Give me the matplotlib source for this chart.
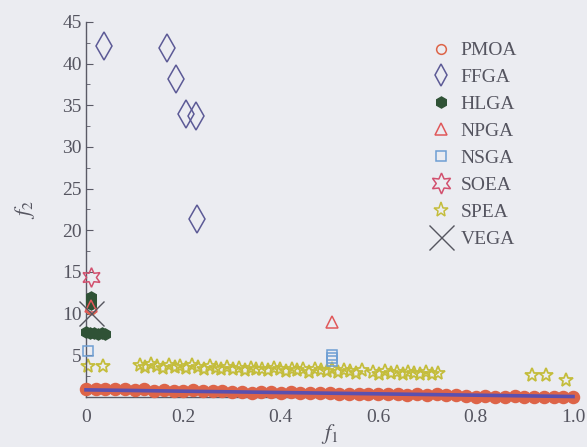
import numpy as np
import matplotlib
matplotlib.use("Agg")
import matplotlib.pyplot as plt
from matplotlib.lines import Line2D

# ---- data ----
pmoa_f1 = [0.00, 0.02, 0.04, 0.06, 0.08, 0.10, 0.12,
           0.14, 0.16, 0.18, 0.20, 0.22, 0.24, 0.26, 0.28,
           0.30, 0.32, 0.34, 0.36, 0.38, 0.40, 0.42, 0.44, 0.46, 0.48, 0.50,
           0.52, 0.54, 0.56, 0.58, 0.60, 0.62, 0.64, 0.66, 0.68, 0.70, 0.72, 0.74, 0.76,
           0.78, 0.80, 0.82, 0.84, 0.86, 0.88, 0.90, 0.92, 0.94, 0.96, 0.98, 1.00]
pmoa_f2 = [0.95, 0.9, 1.0, 0.9, 0.95, 0.85, 0.9,
           0.75, 0.8, 0.7, 0.75, 0.8, 0.7, 0.75, 0.7,
           0.55, 0.6, 0.5, 0.55, 0.6, 0.5, 0.55, 0.5, 0.45, 0.5, 0.45,
           0.35, 0.3, 0.4, 0.35, 0.3, 0.35, 0.3, 0.25, 0.3, 0.25, 0.3, 0.25, 0.2,
           0.1, 0.05, 0.1, 0.0, 0.05, 0.1, 0.0, 0.05, 0.0, 0.05, 0.0, 0.05]
pmoa_out_f1 = [0.01]
pmoa_out_f2 = [10.5]

ffga_f1 = [0.037, 0.167, 0.185, 0.206, 0.226, 0.228]
ffga_f2 = [42.1, 41.9, 38.2, 34.0, 33.7, 21.4]

hlga_f1 = [0.01, 0.01, 0.01, 0.0, 0.008, 0.016, 0.024, 0.032, 0.04]
hlga_f2 = [12.0, 11.6, 11.2, 7.8, 7.7, 7.7, 7.6, 7.7, 7.6]

npga_f1 = [0.01, 0.505]
npga_f2 = [10.9, 9.0]

nsga_f1 = [0.005, 0.505, 0.505, 0.505]
nsga_f2 = [5.5, 4.3, 4.65, 5.0]

soea_f1 = [0.01]
soea_f2 = [14.4]

spea_f1 = [0.005, 0.035,
           0.11, 0.122, 0.134, 0.146, 0.158, 0.17, 0.182, 0.194, 0.206, 0.218, 0.23, 0.242,
           0.254, 0.266, 0.278, 0.29, 0.302, 0.314, 0.326, 0.338, 0.35, 0.362, 0.374, 0.386,
           0.398, 0.41, 0.422, 0.434, 0.446, 0.458, 0.47, 0.482, 0.494, 0.506, 0.518, 0.53,
           0.542, 0.554, 0.566,
           0.59, 0.602, 0.614, 0.626, 0.638, 0.65, 0.662, 0.674, 0.686, 0.698, 0.71, 0.722,
           0.915, 0.945, 0.985]
spea_f2 = [3.7, 3.7,
           3.8, 3.6, 3.9, 3.7, 3.5, 3.8, 3.6, 3.7, 3.5, 3.8, 3.6, 3.4,
           3.7, 3.5, 3.3, 3.6, 3.4, 3.5, 3.2, 3.5, 3.3, 3.4, 3.2, 3.5,
           3.3, 3.1, 3.4, 3.2, 3.3, 3.0, 3.4, 3.2, 3.1, 3.3, 3.0, 3.2,
           3.1, 2.9, 3.2,
           3.0, 2.8, 3.1, 2.9, 3.0, 2.8, 3.0, 2.9, 2.7, 3.0, 2.8, 2.9,
           2.6, 2.6, 2.0]

vega_f1 = [0.01]
vega_f2 = [10.1]

front_f1 = [0.0, 0.25, 0.5, 0.75, 1.0]
front_f2 = [0.85, 0.65, 0.45, 0.25, 0.05]

# ---- style ----
bg = '#ebecf1'
plt.rcParams['font.family'] = ['Liberation Serif', 'DejaVu Serif']
plt.rcParams['mathtext.fontset'] = 'stix'

c_pmoa = '#dd6448'
c_ffga = '#5c5a96'
c_hlga = '#2f5236'
c_npga = '#e0585a'
c_nsga = '#6e9fd4'
c_soea = '#d2506e'
c_spea = '#c4bd3c'
c_vega = '#55555f'
c_front = '#5a50b0'

fig = plt.figure(figsize=(5.87, 4.47), dpi=100, facecolor=bg)
ax = fig.add_axes([86 / 587, 0.112, (573 - 86) / 587, 0.839])
ax.set_facecolor(bg)

ax.plot(pmoa_f1, pmoa_f2, ls='none', marker='o', ms=8.5, mfc=c_pmoa, mec=c_pmoa, mew=1.2, clip_on=False, zorder=3)
ax.plot(pmoa_out_f1, pmoa_out_f2, ls='none', marker='o', ms=7, mfc='none', mec=c_pmoa, mew=1.5, clip_on=False, zorder=3)
ax.plot(front_f1, front_f2, color=c_front, lw=2.6, clip_on=False, zorder=4)
ax.plot(ffga_f1, ffga_f2, ls='none', marker='d', ms=14, mfc='none', mec=c_ffga, mew=1.1, clip_on=False, zorder=3)
ax.plot(hlga_f1, hlga_f2, ls='none', marker='h', ms=8, mfc=c_hlga, mec=c_hlga, clip_on=False, zorder=3)
ax.plot(npga_f1, npga_f2, ls='none', marker='^', ms=9, mfc='none', mec=c_npga, mew=1.1, clip_on=False, zorder=3)
ax.plot(nsga_f1, nsga_f2, ls='none', marker='s', ms=7, mfc='none', mec=c_nsga, mew=1.1, clip_on=False, zorder=3)
ax.plot(soea_f1, soea_f2, ls='none', marker=(6, 1, 0), ms=14, mfc='none', mec=c_soea, mew=1.1, clip_on=False, zorder=3)
ax.plot(spea_f1, spea_f2, ls='none', marker='*', ms=10, mfc='none', mec=c_spea, mew=1.3, clip_on=False, zorder=2)
ax.plot(vega_f1, vega_f2, ls='none', marker='x', ms=18, mec=c_vega, mew=1.0, clip_on=False, zorder=3)

ax.set_xlim(0, 1.0)
ax.set_ylim(0, 45)
ax.set_xticks([0, 0.2, 0.4, 0.6, 0.8, 1.0])
ax.set_xticklabels(['0', '0.2', '0.4', '0.6', '0.8', '1.0'])
ax.set_yticks([5, 10, 15, 20, 25, 30, 35, 40, 45])
ax.set_yticks(np.arange(2.5, 45, 5), minor=True)

for s in ['top', 'right']:
    ax.spines[s].set_visible(False)
for s in ['left', 'bottom']:
    ax.spines[s].set_color('#5a5a66')
    ax.spines[s].set_linewidth(1.0)

ax.tick_params(axis='both', which='both', direction='in', colors='#5a5a66', labelcolor='#555560', labelsize=14)
ax.tick_params(axis='y', which='major', length=5, pad=3)
ax.tick_params(axis='y', which='minor', length=3)
ax.tick_params(axis='x', which='major', length=0, pad=9)

ax.set_xlabel('$f_1$', fontsize=16, color='#555560', labelpad=-3)
ax.set_ylabel('$f_2$', fontsize=16, color='#555560', labelpad=18)

handles = [
    Line2D([], [], ls='none', marker='o', ms=7, mfc='none', mec=c_pmoa, mew=1.1),
    Line2D([], [], ls='none', marker='d', ms=11, mfc='none', mec=c_ffga, mew=1.1),
    Line2D([], [], ls='none', marker='h', ms=8, mfc=c_hlga, mec=c_hlga),
    Line2D([], [], ls='none', marker='^', ms=9, mfc='none', mec=c_npga, mew=1.1),
    Line2D([], [], ls='none', marker='s', ms=7, mfc='none', mec=c_nsga, mew=1.1),
    Line2D([], [], ls='none', marker=(6, 1, 0), ms=15, mfc='none', mec=c_soea, mew=1.1),
    Line2D([], [], ls='none', marker='*', ms=11, mfc='none', mec=c_spea, mew=1.1),
    Line2D([], [], ls='none', marker='x', ms=18, mec=c_vega, mew=1.0),
]
labels = ['PMOA', 'FFGA', 'HLGA', 'NPGA', 'NSGA', 'SOEA', 'SPEA', 'VEGA']
leg = ax.legend(handles, labels, loc='upper left', bbox_to_anchor=(420 / 587, 1 - 32 / 447),
                bbox_transform=fig.transFigure, frameon=False, fontsize=14,
                handlelength=1.2, handletextpad=0.4, labelspacing=0.48, borderpad=0)
for t in leg.get_texts():
    t.set_color('#555560')

fig.savefig('out.png', dpi=100, facecolor=bg)
